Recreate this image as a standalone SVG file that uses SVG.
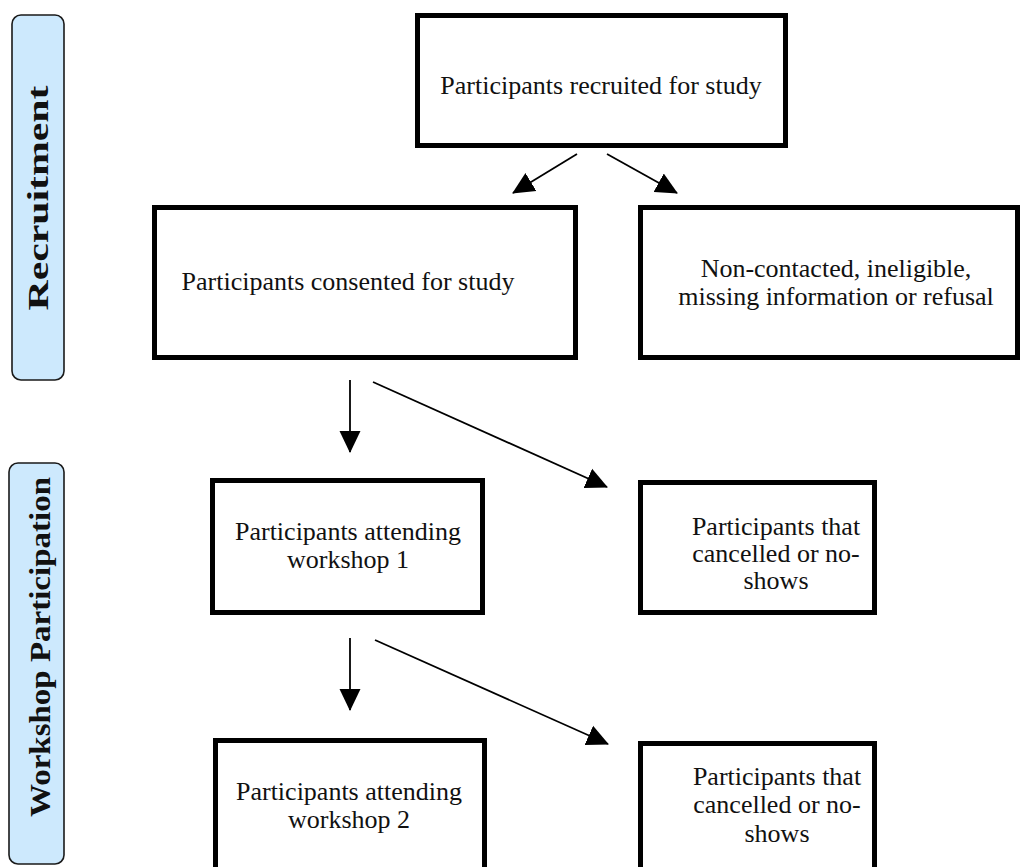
<svg xmlns="http://www.w3.org/2000/svg" width="1022" height="867" viewBox="0 0 1022 867">
<style>
.box{fill:#fff;stroke:#000;stroke-width:5}
.pill{fill:#cde9fd;stroke:#1a1a1a;stroke-width:1.6}
.t{font-family:"Liberation Serif","Times New Roman",serif;font-size:26px;fill:#111;text-anchor:middle}
.lab{font-family:"Liberation Serif","Times New Roman",serif;font-size:30px;font-weight:bold;fill:#111;text-anchor:middle}
.con{stroke:#000;stroke-width:1.8;fill:none;marker-end:url(#ah)}
</style>
<defs>
<marker id="ah" markerUnits="userSpaceOnUse" markerWidth="22" markerHeight="22" refX="21" refY="10.5" orient="auto" viewBox="0 0 22 21">
<path d="M0,0 L22,10.5 L0,21 z" fill="#000"/>
</marker>
</defs>
<rect width="1022" height="867" fill="#fff"/>
<g id="lane-recruitment">
<rect class="pill" x="12" y="15" width="52" height="365" rx="9"/>
<text class="lab" transform="translate(48,198) rotate(-90)" textLength="225" lengthAdjust="spacingAndGlyphs">Recruitment</text>
</g>
<g id="lane-workshop">
<rect class="pill" x="9" y="463" width="55" height="401" rx="9"/>
<text class="lab" transform="translate(50,647) rotate(-90)" textLength="340" lengthAdjust="spacingAndGlyphs">Workshop Participation</text>
</g>
<g id="recruited">
<rect class="box" x="417.5" y="15.5" width="368" height="130"/>
<text class="t" x="601" y="94">Participants recruited for study</text>
</g>
<g id="consented">
<rect class="box" x="154.5" y="207.5" width="421" height="150"/>
<text class="t" x="348" y="290">Participants consented for study</text>
</g>
<g id="excluded">
<rect class="box" x="640.5" y="207.5" width="377" height="150"/>
<text class="t" x="836" y="277">Non-contacted, ineligible,</text>
<text class="t" x="836" y="305">missing information or refusal</text>
</g>
<g id="workshop1">
<rect class="box" x="212.5" y="480.5" width="270" height="132"/>
<text class="t" x="348" y="540">Participants attending</text>
<text class="t" x="348" y="568">workshop 1</text>
</g>
<g id="noshow1">
<rect class="box" x="640.5" y="482.5" width="234" height="130"/>
<text class="t" x="776" y="535">Participants that</text>
<text class="t" x="776" y="562">cancelled or no-</text>
<text class="t" x="776" y="589">shows</text>
</g>
<g id="workshop2">
<rect class="box" x="215.5" y="740.5" width="269" height="200"/>
<text class="t" x="349" y="800">Participants attending</text>
<text class="t" x="349" y="828">workshop 2</text>
</g>
<g id="noshow2">
<rect class="box" x="640.5" y="743.5" width="234" height="200"/>
<text class="t" x="777" y="785">Participants that</text>
<text class="t" x="777" y="813">cancelled or no-</text>
<text class="t" x="777" y="842">shows</text>
</g>
<g id="connectors">
<line class="con" x1="577" y1="154" x2="513" y2="193"/>
<line class="con" x1="607" y1="154" x2="677" y2="193"/>
<line class="con" x1="350" y1="380" x2="350" y2="452"/>
<line class="con" x1="373" y1="382" x2="607" y2="487"/>
<line class="con" x1="350" y1="638" x2="350" y2="710"/>
<line class="con" x1="375" y1="640" x2="608" y2="744"/>
</g>
</svg>
